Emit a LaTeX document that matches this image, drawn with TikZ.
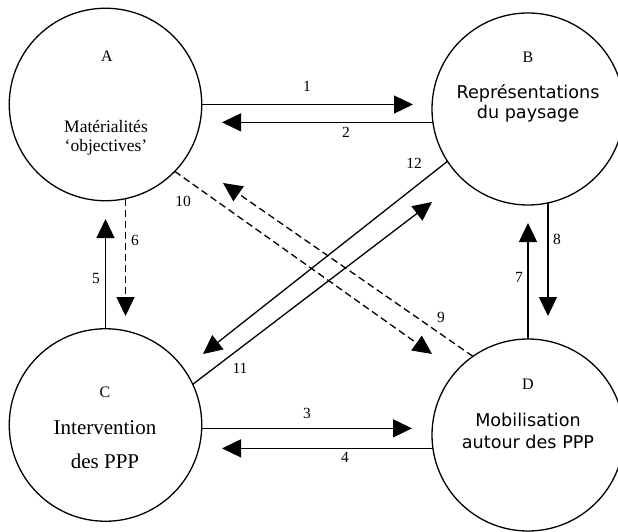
\documentclass[tikz,border=0pt]{standalone}
\usepackage{fontspec}
\setmainfont{Liberation Serif}
\newfontfamily\sansf{DejaVu Sans}
\usetikzlibrary{arrows.meta}
\tikzset{
  circ/.style={circle, draw, line width=1.3pt, inner sep=0pt, outer sep=0pt},
  arr/.style={line width=1.3pt, -{Triangle[length=19pt,width=18pt]}},
  dsh/.style={arr, dash pattern=on 7pt off 4pt},
  num/.style={font=\fontsize{15.5}{18}\selectfont, anchor=base, inner sep=0pt},
  let/.style={font=\fontsize{16}{18}\selectfont, anchor=base, inner sep=0pt},
  ser/.style={font=\fontsize{17.5}{20}\selectfont, anchor=base, inner sep=0pt},
  serb/.style={font=\fontsize{21}{24}\selectfont, anchor=base, inner sep=0pt},
  san/.style={font=\sansf\fontsize{17.6}{20}\selectfont, anchor=base, inner sep=0pt}
}
\begin{document}
\begin{tikzpicture}[x=1pt,y=-1pt]
\clip (0,0) rectangle (618,532);
\fill[white] (0,0) rectangle (618,532);
% circles
\node[circ, minimum size=192.5pt] (A) at (105.5,104.5) {};
\node[circ, minimum size=192pt] (B) at (528,109) {};
\node[circ, minimum size=192.5pt] (C) at (105.5,425) {};
\node[circ, minimum size=192pt] (D) at (528,435) {};
% texts
\node[let] (la) at (107,62) {A};
\node[ser] (a1) at (106,132) {Matérialités};
\node[ser] (a2) at (106,151) {‘objectives’};
\node[let] (lb) at (528,63) {B};
\node[san] (b1) at (528,99) {Représentations};
\node[san] (b2) at (528,119) {du paysage};
\node[let] (lc) at (105,397) {C};
\node[serb] (c1) at (105,434) {Intervention};
\node[serb] (c2) at (105,468) {des PPP};
\node[let] (ld) at (528,389) {D};
\node[san] (d1) at (528,426) {Mobilisation};
\node[san] (d2) at (528,448) {autour des PPP};
% tips
\coordinate (t1) at (413,104.5);
\coordinate (t2) at (222,0);
\coordinate (t3) at (412,0);
\coordinate (t4) at (222,0);
\coordinate (t5) at (0,219);
\coordinate (t6) at (0,316);
\coordinate (t7) at (0,223);
\coordinate (t8) at (0,316);
\coordinate (t9) at (223,183);
\coordinate (t10) at (432,354);
\coordinate (t11) at (432,202);
\coordinate (t12) at (203,354);
% arrows
\draw[arr] (A.0) -- (t1);
\draw[arr] (B.188) -- (t2 |- B.188);
\draw[arr] (C.-2.4) -- (t3 |- C.-2.4);
\draw[arr] (D.188.4) -- (t4 |- D.188.4);
\draw[arr] (C.90) -- (C.90 |- t5);
\draw[dsh] (A.-78.3) -- (A.-78.3 |- t6);
\draw[arr] (D.90) -- (D.90 |- t7);
\draw[arr] (B.-78) -- (B.-78 |- t8);
\draw[dsh] (D.125) -- (t9);
\draw[dsh] (A.-44.8) -- (t10);
\draw[arr] (C.25.6) -- (t11);
\draw[arr] (B.213.9) -- (t12);
% numbers
\node[num] (n1) at (307,92) {1};
\node[num] (n2) at (346,137) {2};
\node[num] (n3) at (307,418) {3};
\node[num] (n4) at (345,462) {4};
\node[num] (n5) at (96,283) {5};
\node[num] (n6) at (135,245) {6};
\node[num] (n7) at (519,282) {7};
\node[num] (n8) at (557,244) {8};
\node[num] (n9) at (441,322) {9};
\node[num] (n10) at (183,206) {10};
\node[num] (n11) at (240,373) {11};
\node[num] (n12) at (414,168) {12};
\end{tikzpicture}
\end{document}
